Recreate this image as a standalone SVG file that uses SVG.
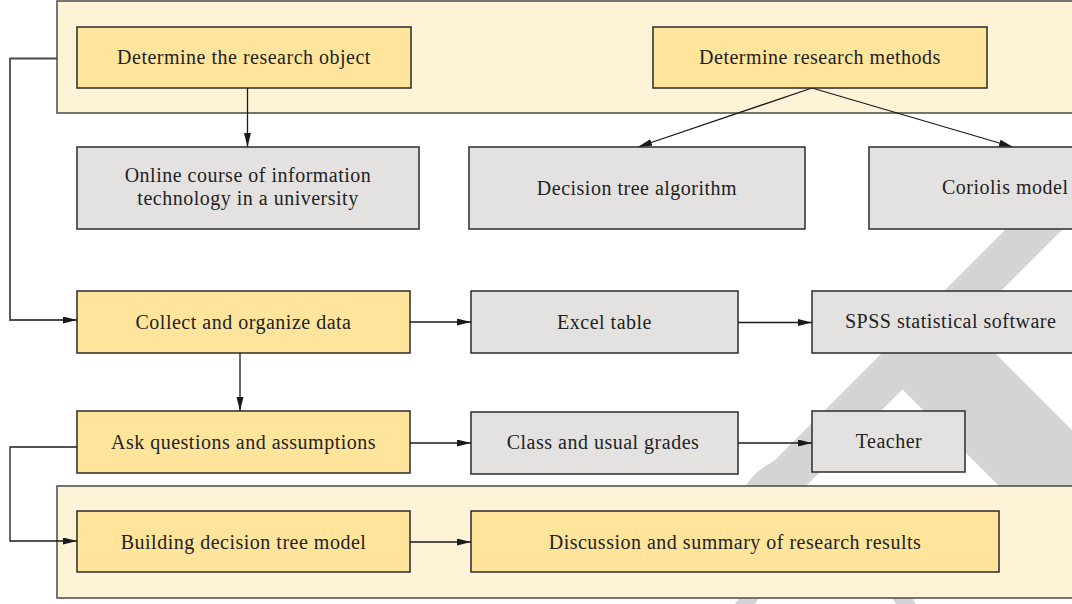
<svg xmlns="http://www.w3.org/2000/svg" width="1072" height="604" viewBox="0 0 1072 604">
  <defs>
    <style>
      .band { fill: #FEF3D6; stroke: #4a4a4a; stroke-width: 1.5; }
      .y { fill: #FFE59C; stroke: #2b2b2b; stroke-width: 1.5; }
      .g { fill: #E3E2E1; stroke: #2b2b2b; stroke-width: 1.5; }
      .t { font-family: "Liberation Serif", "Times New Roman", serif; font-size: 20px; fill: #222; text-anchor: middle; letter-spacing: 0.5px; }
      .c { fill: none; stroke: #1a1a1a; stroke-width: 1.3; }
      .c2 { fill: none; stroke: #4a4a4a; stroke-width: 1.8; }
      .wm { fill: #D4D4D4; }
    </style>
    <marker id="arr" markerUnits="userSpaceOnUse" markerWidth="14" markerHeight="8" refX="14" refY="3.5" orient="auto">
      <path d="M0,0 L14,3.5 L0,7 Z" fill="#1a1a1a"/>
    </marker>
  </defs>
  <rect width="1072" height="604" fill="#ffffff"/>

  <g id="watermark">
    <polygon class="wm" points="1085,150 1142,150 740,552 683,552"/>
    <polygon class="wm" points="942,300 1100,458 1100,587 880,367"/>
    <path class="wm" d="M745,487 Q758,466 782,458 L800,487 Z"/>
    <polygon class="wm" points="739,598 759,598 755,604 735,604"/>
    <polygon class="wm" points="892,598 912,598 916,604 896,604"/>
  </g>

  <g id="band-top"><rect class="band" x="57" y="1" width="1030" height="112"/></g>
  <g id="band-bottom"><rect class="band" x="57" y="486" width="1030" height="112"/></g>

  <g id="connectors">
    <path class="c2" d="M57,58.5 H10 V320 H77" marker-end="url(#arr)"/>
    <path class="c" d="M247.5,88 V147" marker-end="url(#arr)"/>
    <path class="c" d="M812,88 L638,147" marker-end="url(#arr)"/>
    <path class="c" d="M812,88 L1013,147" marker-end="url(#arr)"/>
    <path class="c" d="M410,322 H471" marker-end="url(#arr)"/>
    <path class="c" d="M738,322.5 H812" marker-end="url(#arr)"/>
    <path class="c" d="M240,353 V411" marker-end="url(#arr)"/>
    <path class="c" d="M410,443 H471" marker-end="url(#arr)"/>
    <path class="c" d="M738,443 H812" marker-end="url(#arr)"/>
    <path class="c" d="M77,447 H10 V541 H77" marker-end="url(#arr)"/>
    <path class="c" d="M410,542 H471" marker-end="url(#arr)"/>
  </g>

  <g id="n-object">
    <rect class="y" x="77" y="27" width="334" height="61"/>
    <text class="t" x="244" y="63.5">Determine the research object</text>
  </g>
  <g id="n-methods">
    <rect class="y" x="653" y="27" width="334" height="61"/>
    <text class="t" x="820" y="63.5">Determine research methods</text>
  </g>
  <g id="n-online">
    <rect class="g" x="77" y="147" width="342" height="82"/>
    <text class="t" x="248" y="182">Online course of information</text>
    <text class="t" x="248" y="205">technology in a university</text>
  </g>
  <g id="n-dtree">
    <rect class="g" x="469" y="147" width="336" height="82"/>
    <text class="t" x="637" y="194.5">Decision tree algorithm</text>
  </g>
  <g id="n-coriolis">
    <rect class="g" x="869" y="147" width="300" height="82"/>
    <text class="t" x="942" y="194" style="text-anchor:start">Coriolis model</text>
  </g>
  <g id="n-collect">
    <rect class="y" x="77" y="291" width="333" height="62"/>
    <text class="t" x="243.5" y="328.5">Collect and organize data</text>
  </g>
  <g id="n-excel">
    <rect class="g" x="471" y="291" width="267" height="62"/>
    <text class="t" x="604.5" y="328.5">Excel table</text>
  </g>
  <g id="n-spss">
    <rect class="g" x="812" y="291" width="300" height="62"/>
    <text class="t" x="845" y="328" style="text-anchor:start">SPSS statistical software</text>
  </g>
  <g id="n-ask">
    <rect class="y" x="77" y="411" width="333" height="62"/>
    <text class="t" x="243.5" y="448.5">Ask questions and assumptions</text>
  </g>
  <g id="n-class">
    <rect class="g" x="471" y="412" width="267" height="62"/>
    <text class="t" x="603" y="449">Class and usual grades</text>
  </g>
  <g id="n-teacher">
    <rect class="g" x="812" y="411" width="153" height="61"/>
    <text class="t" x="889" y="447.5">Teacher</text>
  </g>
  <g id="n-build">
    <rect class="y" x="77" y="511" width="333" height="61"/>
    <text class="t" x="243.5" y="548.5">Building decision tree model</text>
  </g>
  <g id="n-discuss">
    <rect class="y" x="471" y="511" width="528" height="61"/>
    <text class="t" x="735" y="548.5">Discussion and summary of research results</text>
  </g>
</svg>
